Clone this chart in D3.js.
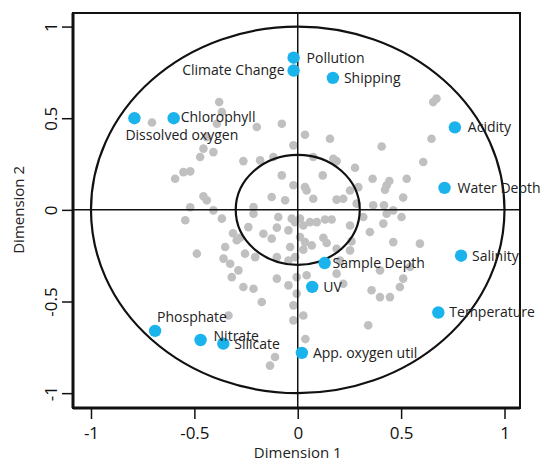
<!DOCTYPE html>
<html>
<head>
<meta charset="utf-8">
<script src="https://cdn.jsdelivr.net/npm/d3@7"></script>
<style>
  html, body { margin: 0; padding: 0; background: #fff; }
  svg { display: block; font-family: "Open Sans", "DejaVu Sans", sans-serif; }
</style>
</head>
<body>
<div id="chart"></div>
<script>
// ---- data ----
const varNames = ["Pollution", "Climate Change", "Shipping", "Acidity", "Water Depth",
  "Chlorophyll", "Dissolved oxygen", "Salinity", "Sample Depth", "UV",
  "Temperature", "App. oxygen util", "Phosphate", "Nitrate", "Silicate"];
const varDim1 = [-0.02, -0.02, 0.17, 0.76, 0.71, -0.60, -0.79, 0.79, 0.13, 0.07, 0.68, 0.02, -0.69, -0.47, -0.36];
const varDim2 = [0.83, 0.76, 0.72, 0.45, 0.12, 0.50, 0.50, -0.25, -0.29, -0.42, -0.56, -0.78, -0.66, -0.71, -0.73];

const sampleDim1 = [
  -0.380, -0.367, -0.391, -0.705, -0.198, -0.077, -0.440, -0.456, -0.408, -0.472,
  -0.021, -0.263, -0.182, -0.593, -0.553, -0.520, -0.077, -0.021, -0.456, -0.440,
  -0.126, -0.061, -0.520, -0.118, -0.214, -0.214,
  0.655, 0.671, 0.035, 0.156, 0.406, 0.647, 0.172, 0.188, 0.607, 0.277,
  0.121, 0.362, 0.443, 0.430, 0.422, 0.527, 0.035, 0.043, 0.293, 0.075,
  0.188, 0.220, 0.510, 0.365, 0.417, 0.075, 0.253, 0.285,
  0.317, -0.094, -0.029, -0.013, 0.011, 0.027, 0.059, 0.092, 0.132, 0.164,
  -0.239, -0.101, -0.045, 0.253, -0.166, -0.126, 0.011, 0.035, 0.124, 0.140,
  -0.279, -0.313, -0.037, 0.027, 0.188, 0.260, -0.255, -0.206, -0.101, 0.430,
  0.462, 0.502, 0.414, 0.349, 0.462, 0.591, 0.253, 0.543, 0.398, 0.510,
  0.494, 0.357, 0.398, 0.446, 0.188, 0.220, 0.068, -0.013, -0.005, 0.043,
  -0.005, -0.021, 0.027, 0.341, -0.021, -0.408, -0.367, -0.544, -0.295, -0.488,
  -0.351, -0.359, -0.327, -0.287, -0.319, -0.101, -0.045, -0.263, -0.214, -0.174,
  -0.335, -0.110, 0.037, 0.204, -0.045, -0.134
];
const sampleDim2 = [
  0.588, 0.534, 0.470, 0.477, 0.452, 0.470, 0.397, 0.334, 0.315, 0.288,
  0.352, 0.266, 0.270, 0.170, 0.206, 0.210, 0.188, 0.134, 0.074, 0.052,
  0.070, 0.052, 0.014, 0.288, 0.015, -0.021,
  0.588, 0.607, 0.410, 0.388, 0.346, 0.388, 0.279, 0.266, 0.261, 0.230,
  0.188, 0.170, 0.157, 0.134, 0.110, 0.170, 0.124, 0.106, 0.124, 0.061,
  0.056, 0.061, 0.067, 0.025, 0.025, 0.288, 0.106, 0.034,
  -0.039, -0.039, -0.048, -0.067, -0.048, -0.085, -0.067, -0.067, -0.053, -0.053,
  -0.094, -0.097, -0.112, -0.085, -0.130, -0.157, -0.148, -0.176, -0.152, -0.181,
  -0.152, -0.128, -0.203, -0.217, -0.212, -0.172, -0.239, -0.258, -0.258, -0.021,
  -0.003, -0.039, -0.075, -0.121, -0.176, -0.184, -0.221, -0.312, -0.330, -0.375,
  -0.421, -0.439, -0.476, -0.476, -0.348, -0.403, -0.194, -0.258, -0.367, -0.357,
  -0.457, -0.521, -0.576, -0.630, -0.603, -0.003, -0.048, -0.057, -0.166, -0.239,
  -0.203, -0.266, -0.294, -0.330, -0.367, -0.375, -0.412, -0.421, -0.430, -0.503,
  -0.576, -0.803, -0.705, -0.276, -0.276, -0.850
];

const xTicks = [-1, -0.5, 0, 0.5, 1];
const yTicks = [-1, -0.5, 0, 0.5, 1];
const xTitle = "Dimension 1";
const yTitle = "Dimension 2";
const innerRadius = 0.3;
const outerRadius = 1;

// ---- layout ----
const W = 544, H = 464;
const plot = { left: 73, top: 13, right: 520, bottom: 408 };

const x = d3.scaleLinear().domain([-1.087, 1.075]).range([plot.left, plot.right]);
const y = d3.scaleLinear().domain([-1.081, 1.074]).range([plot.bottom, plot.top]);

const svg = d3.select("#chart").append("svg").attr("width", W).attr("height", H);

// sample points (gray)
svg.append("g").selectAll("circle")
  .data(sampleDim1.map((d, i) => [d, sampleDim2[i]]))
  .join("circle")
  .attr("cx", d => x(d[0]))
  .attr("cy", d => y(d[1]))
  .attr("r", 4.3)
  .attr("fill", "#c0c0c0");

// zero lines
svg.append("line").attr("x1", plot.left).attr("x2", plot.right)
  .attr("y1", y(0)).attr("y2", y(0)).attr("stroke", "#111").attr("stroke-width", 1.5);
svg.append("line").attr("y1", plot.top).attr("y2", plot.bottom)
  .attr("x1", x(0)).attr("x2", x(0)).attr("stroke", "#111").attr("stroke-width", 1.5);

// circles of correlation
[outerRadius, innerRadius].forEach(r => {
  svg.append("ellipse")
    .attr("cx", x(0)).attr("cy", y(0))
    .attr("rx", x(r) - x(0)).attr("ry", y(0) - y(r))
    .attr("fill", "none").attr("stroke", "#111").attr("stroke-width", 2.2);
});

// box
svg.append("rect")
  .attr("x", plot.left).attr("y", plot.top)
  .attr("width", plot.right - plot.left).attr("height", plot.bottom - plot.top)
  .attr("fill", "none").attr("stroke", "#111").attr("stroke-width", 2);

// x axis
const gx = svg.append("g").attr("transform", `translate(0,${plot.bottom})`)
  .call(d3.axisBottom(x).tickValues(xTicks).tickSize(11).tickSizeOuter(0)
    .tickFormat(d => String(d)));
gx.select(".domain").remove();
gx.selectAll(".tick line").attr("stroke", "#111").attr("stroke-width", 1.5);
gx.selectAll(".tick text").attr("y", 31).attr("dy", 0)
  .attr("font-size", 17).attr("fill", "#111")
  .attr("font-family", "'Open Sans', sans-serif");

// y axis
const gy = svg.append("g").attr("transform", `translate(${plot.left},0)`)
  .call(d3.axisLeft(y).tickValues(yTicks).tickSize(11).tickSizeOuter(0)
    .tickFormat(d => String(d)));
gy.select(".domain").remove();
gy.selectAll(".tick line").attr("stroke", "#111").attr("stroke-width", 1.5);
gy.selectAll(".tick text")
  .attr("x", 0).attr("dy", 0).attr("y", -16)
  .attr("text-anchor", "middle")
  .attr("transform", "rotate(-90)")
  .attr("font-size", 17).attr("fill", "#111")
  .attr("font-family", "'Open Sans', sans-serif");

// thicker axis sides
svg.append("line").attr("x1", plot.left).attr("x2", plot.right)
  .attr("y1", plot.bottom).attr("y2", plot.bottom).attr("stroke", "#111").attr("stroke-width", 3);
svg.append("line").attr("x1", plot.left).attr("x2", plot.left)
  .attr("y1", plot.top).attr("y2", plot.bottom).attr("stroke", "#111").attr("stroke-width", 3);

// axis titles
svg.append("text").attr("x", x(0)).attr("y", 458)
  .attr("text-anchor", "middle").attr("font-size", 15).attr("fill", "#222").text(xTitle);
svg.append("text").attr("transform", `translate(24,${y(0)}) rotate(-90)`)
  .attr("text-anchor", "middle").attr("font-size", 15).attr("fill", "#222").text(yTitle);

// variable points (blue)
const vars = varNames.map((n, i) => ({ name: n, d1: varDim1[i], d2: varDim2[i] }));
svg.append("g").selectAll("circle")
  .data(vars).join("circle")
  .attr("cx", d => x(d.d1)).attr("cy", d => y(d.d2))
  .attr("r", 6.2).attr("fill", "#1bb3ec");

// label placement (layout only)
const labelPlace = {
  "Climate Change": [-9, 0, "end"],
  "Dissolved oxygen": [-9, 17, "start"],
  "Chlorophyll": [7, -1, "start"],
  "Phosphate": [2, -14, "start"],
  "Nitrate": [13, -4, "start"],
  "Sample Depth": [8, 0, "start"],
  "Pollution": [13, 0, "start"],
  "Acidity": [13, 0, "start"],
  "Water Depth": [13, 0, "start"]
};
svg.append("g").selectAll("text")
  .data(vars).join("text")
  .attr("x", d => x(d.d1) + (labelPlace[d.name] || [11])[0])
  .attr("y", d => y(d.d2) + ((labelPlace[d.name] || [11, 0])[1]))
  .attr("dy", "0.35em")
  .attr("text-anchor", d => (labelPlace[d.name] || [11, 0, "start"])[2])
  .attr("font-size", 14).attr("fill", "#222")
  .text(d => d.name);
</script>
</body>
</html>
